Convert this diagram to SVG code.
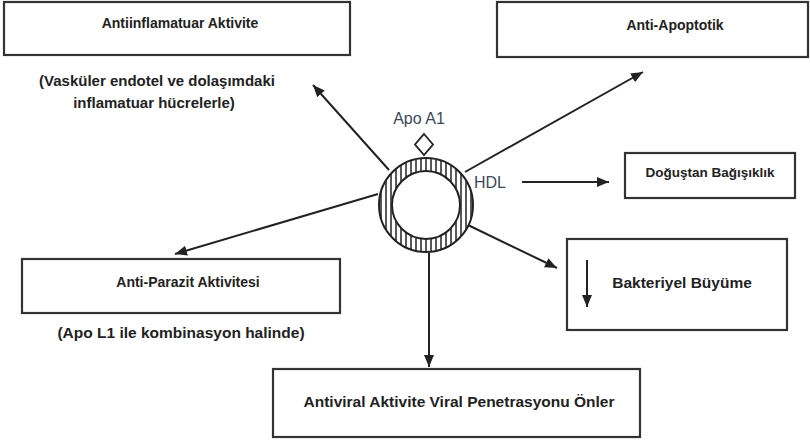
<svg xmlns="http://www.w3.org/2000/svg" width="810" height="442" viewBox="0 0 810 442">
<style>
.box{fill:#fff;stroke:#333;stroke-width:2.2}
.t{font-family:"Liberation Sans",Arial,sans-serif;font-weight:bold;fill:#222;text-anchor:middle}
.lbl{font-family:"Liberation Sans",Arial,sans-serif;fill:#3a4858;font-size:16px}
.ln{stroke:#222;stroke-width:2;fill:none}
.hatch{stroke:#222;stroke-width:1.5}
</style>
<defs>
<marker id="ah" markerUnits="userSpaceOnUse" markerWidth="13" markerHeight="11" refX="12" refY="5" orient="auto">
<path d="M0,0 L12,5 L0,10 z" fill="#222"/>
</marker>
<clipPath id="ring"><path clip-rule="evenodd" d="M379,205a47,47 0 1,0 94,0a47,47 0 1,0 -94,0z M392,205a34,34 0 1,0 68,0a34,34 0 1,0 -68,0z"/></clipPath>
</defs>
<rect width="810" height="442" fill="#fff"/>
<g id="connectors">
<line class="ln" x1="389" y1="170" x2="313" y2="85" marker-end="url(#ah)"/>
<line class="ln" x1="465" y1="172" x2="643" y2="72" marker-end="url(#ah)"/>
<line class="ln" x1="378" y1="194" x2="175" y2="254" marker-end="url(#ah)"/>
<line class="ln" x1="468" y1="225" x2="557" y2="268" marker-end="url(#ah)"/>
<line class="ln" x1="429" y1="253" x2="429" y2="367" marker-end="url(#ah)"/>
<line class="ln" x1="522" y1="182" x2="609" y2="182" marker-end="url(#ah)"/>
</g>
<g id="hdl">
<g clip-path="url(#ring)" class="hatch">
<line x1="381" y1="150" x2="381" y2="260"/><line x1="386" y1="150" x2="386" y2="260"/><line x1="391" y1="150" x2="391" y2="260"/><line x1="396" y1="150" x2="396" y2="260"/><line x1="401" y1="150" x2="401" y2="260"/><line x1="406" y1="150" x2="406" y2="260"/><line x1="411" y1="150" x2="411" y2="260"/><line x1="416" y1="150" x2="416" y2="260"/><line x1="421" y1="150" x2="421" y2="260"/><line x1="426" y1="150" x2="426" y2="260"/><line x1="431" y1="150" x2="431" y2="260"/><line x1="436" y1="150" x2="436" y2="260"/><line x1="441" y1="150" x2="441" y2="260"/><line x1="446" y1="150" x2="446" y2="260"/><line x1="451" y1="150" x2="451" y2="260"/><line x1="456" y1="150" x2="456" y2="260"/><line x1="461" y1="150" x2="461" y2="260"/><line x1="466" y1="150" x2="466" y2="260"/><line x1="471" y1="150" x2="471" y2="260"/>
</g>
<circle cx="426" cy="205" r="47" class="ln"/>
<circle cx="426" cy="205" r="34" class="ln" fill="#fff"/>
<path d="M424,134 L433,144.5 L424,155 L415,144.5 z" fill="#fff" stroke="#222" stroke-width="1.8"/>
<text class="lbl" x="419" y="124" text-anchor="middle">Apo A1</text>
<text class="lbl" x="474" y="188">HDL</text>
</g>
<g id="antiinflamatuar">
<rect class="box" x="4" y="2" width="346" height="53"/>
<text class="t" x="180" y="28" font-size="14">Antiinflamatuar Aktivite</text>
<text class="t" x="157" y="86" font-size="15">(Vasküler endotel ve dolaşımdaki</text>
<text class="t" x="154" y="108" font-size="15">inflamatuar hücrelerle)</text>
</g>
<g id="antiapoptotik">
<rect class="box" x="497" y="2" width="311" height="55"/>
<text class="t" x="675" y="30" font-size="14">Anti-Apoptotik</text>
</g>
<g id="dogustan">
<rect class="box" x="625" y="153" width="170" height="45"/>
<text class="t" x="710" y="177" font-size="13.5">Doğuştan Bağışıklık</text>
</g>
<g id="bakteriyel">
<rect class="box" x="567" y="239" width="220" height="91"/>
<line class="ln" x1="587" y1="260" x2="587" y2="307" marker-end="url(#ah)"/>
<text class="t" x="682" y="288" font-size="15.5">Bakteriyel Büyüme</text>
</g>
<g id="antiparazit">
<rect class="box" x="22" y="259" width="318" height="54"/>
<text class="t" x="188" y="287" font-size="14">Anti-Parazit Aktivitesi</text>
<text class="t" x="181" y="338" font-size="15.5">(Apo L1 ile kombinasyon halinde)</text>
</g>
<g id="antiviral">
<rect class="box" x="273" y="369" width="367" height="68"/>
<text class="t" x="459" y="407" font-size="15.5">Antiviral Aktivite Viral Penetrasyonu Önler</text>
</g>
</svg>
